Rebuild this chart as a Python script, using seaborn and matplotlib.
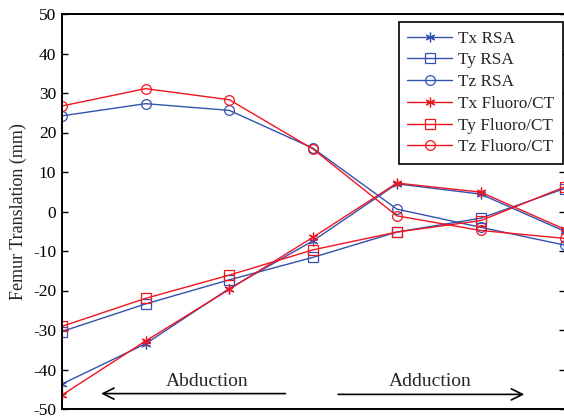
import numpy as np
import pandas as pd
import matplotlib
matplotlib.use('Agg')
import matplotlib.pyplot as plt
import seaborn as sns

# --- DATA ---
positions = [1, 2, 3, 4, 5, 6, 7]
tx_rsa = [-43.7, -33.5, -19.5, -7.4, 7.0, 4.4, -5.0]
ty_rsa = [-30.4, -23.4, -17.3, -11.6, -5.2, -1.7, 5.8]
tz_rsa = [24.2, 27.3, 25.6, 16.0, 0.6, -4.0, -8.5]
tx_fluoro = [-46.5, -32.8, -19.7, -6.5, 7.2, 4.9, -4.5]
ty_fluoro = [-29.1, -22.0, -16.1, -9.7, -5.2, -2.3, 6.2]
tz_fluoro = [26.7, 31.1, 28.3, 15.8, -1.1, -4.8, -6.8]
y_ticks = [-50, -40, -30, -20, -10, 0, 10, 20, 30, 40, 50]

# --- STYLE ---
sns.set_style('white')
plt.rcParams['font.family'] = ['Liberation Serif', 'DejaVu Serif']
plt.rcParams['axes.unicode_minus'] = False

blue = '#3352b0'
red = '#f2141e'
asterisk = (6, 2, 0)

series = [
    ('Tx RSA', tx_rsa, blue, asterisk),
    ('Ty RSA', ty_rsa, blue, 's'),
    ('Tz RSA', tz_rsa, blue, 'o'),
    ('Tx Fluoro/CT', tx_fluoro, red, asterisk),
    ('Ty Fluoro/CT', ty_fluoro, red, 's'),
    ('Tz Fluoro/CT', tz_fluoro, red, 'o'),
]

fig = plt.figure(figsize=(5.64, 4.16), dpi=100)
ax = fig.add_axes([61.7 / 564, 7 / 416, 502.8 / 564, 395 / 416])

for name, vals, col, mk in series:
    sns.lineplot(x=positions, y=vals, ax=ax, color=col, marker=mk,
                 markersize=7, markerfacecolor='none', markeredgecolor=col,
                 markeredgewidth=0.9, linewidth=1.0, label=name)

ax.set_xlim(1, 7)
ax.set_ylim(-50, 50)
ax.set_yticks(y_ticks)
ax.set_xticks([])
ax.tick_params(axis='y', which='both', direction='in', length=4, width=1,
               left=True, right=True, labelsize=12.5, pad=4, colors='black')
for sp in ax.spines.values():
    sp.set_visible(True)
    sp.set_color('black')
    sp.set_linewidth(1.4)

ax.set_ylabel('Femur Translation (mm)', fontsize=13, labelpad=4)

# direction arrows
ax.annotate('', xy=(1.47, -46.1), xytext=(3.67, -46.1),
            arrowprops=dict(arrowstyle='->', lw=1.2, color='black',
                            mutation_scale=20, shrinkA=0, shrinkB=0))
ax.annotate('', xy=(6.52, -46.3), xytext=(4.30, -46.3),
            arrowprops=dict(arrowstyle='->', lw=1.2, color='black',
                            mutation_scale=20, shrinkA=0, shrinkB=0))
ax.text(2.73, -44.3, 'Abduction', ha='center', va='baseline', fontsize=14)
ax.text(5.40, -44.3, 'Adduction', ha='center', va='baseline', fontsize=14)

leg = ax.legend(loc='upper right', bbox_to_anchor=(563 / 564, (416 - 22) / 416),
                bbox_transform=fig.transFigure, borderaxespad=0,
                fontsize=12.4, frameon=True, fancybox=False, framealpha=1,
                edgecolor='black', handlelength=2.6, handletextpad=0.35,
                labelspacing=0.33, borderpad=0.5)
leg.get_frame().set_linewidth(1.2)

fig.savefig('out.png', dpi=100)
